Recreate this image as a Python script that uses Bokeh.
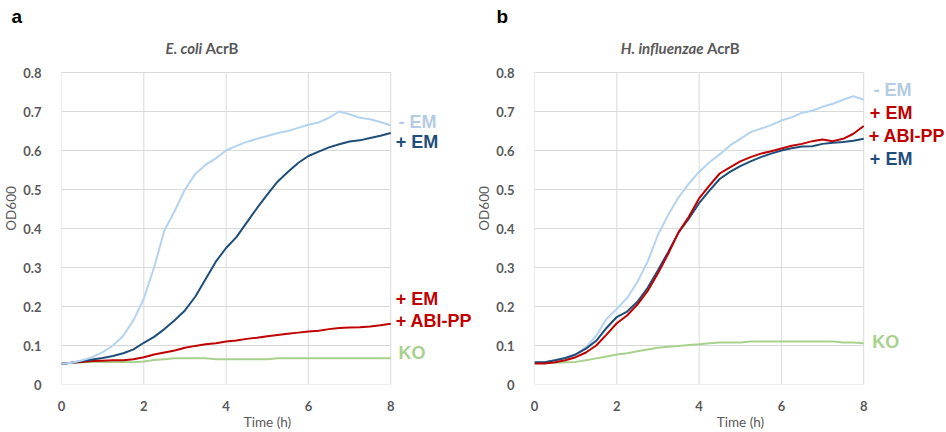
from bokeh.plotting import figure
from bokeh.layouts import row
from bokeh.models import Range1d, FixedTicker, Label, Title
from bokeh.embed import file_html
from bokeh.resources import INLINE

time_h = [i * 0.25 for i in range(33)]

ecoli_minus_em = [0.053, 0.056, 0.062, 0.070, 0.083, 0.100, 0.125, 0.165, 0.220, 0.300, 0.395,
                  0.445, 0.500, 0.540, 0.563, 0.580, 0.600, 0.612, 0.622, 0.630, 0.637, 0.645,
                  0.650, 0.658, 0.666, 0.672, 0.684, 0.700, 0.693, 0.684, 0.680, 0.673, 0.664]
ecoli_plus_em = [0.053, 0.056, 0.060, 0.064, 0.068, 0.073, 0.080, 0.090, 0.107, 0.122, 0.142,
                 0.165, 0.190, 0.225, 0.270, 0.315, 0.350, 0.378, 0.415, 0.452, 0.487, 0.520,
                 0.545, 0.568, 0.586, 0.597, 0.608, 0.616, 0.623, 0.626, 0.632, 0.638, 0.645]
ecoli_em_abipp = [0.053, 0.056, 0.058, 0.060, 0.061, 0.062, 0.062, 0.065, 0.070, 0.077, 0.082,
                  0.087, 0.094, 0.099, 0.103, 0.106, 0.110, 0.113, 0.117, 0.120, 0.124, 0.127,
                  0.130, 0.133, 0.136, 0.138, 0.142, 0.145, 0.146, 0.147, 0.149, 0.152, 0.156]
ecoli_ko = [0.053, 0.056, 0.057, 0.058, 0.058, 0.058, 0.058, 0.057, 0.059, 0.063, 0.065,
            0.067, 0.067, 0.067, 0.067, 0.065, 0.065, 0.065, 0.065, 0.065, 0.065, 0.067,
            0.067, 0.067, 0.067, 0.067, 0.067, 0.067, 0.067, 0.067, 0.067, 0.067, 0.067]

hinf_minus_em = [0.057, 0.057, 0.062, 0.068, 0.077, 0.095, 0.125, 0.168, 0.194, 0.222, 0.263,
                 0.315, 0.384, 0.435, 0.480, 0.515, 0.545, 0.570, 0.590, 0.613, 0.630, 0.647,
                 0.656, 0.665, 0.677, 0.685, 0.697, 0.702, 0.712, 0.720, 0.730, 0.739, 0.730]
hinf_plus_em = [0.057, 0.057, 0.062, 0.068, 0.077, 0.092, 0.112, 0.145, 0.173, 0.187, 0.212,
                0.248, 0.293, 0.340, 0.390, 0.425, 0.465, 0.497, 0.527, 0.545, 0.560, 0.572,
                0.583, 0.592, 0.600, 0.606, 0.610, 0.611, 0.617, 0.620, 0.622, 0.625, 0.630]
hinf_em_abipp = [0.054, 0.054, 0.057, 0.062, 0.070, 0.082, 0.100, 0.128, 0.157, 0.177, 0.205,
                 0.240, 0.285, 0.335, 0.390, 0.430, 0.477, 0.510, 0.541, 0.557, 0.572, 0.583,
                 0.592, 0.598, 0.605, 0.612, 0.617, 0.624, 0.628, 0.624, 0.630, 0.643, 0.663]
hinf_ko = [0.055, 0.055, 0.056, 0.057, 0.058, 0.062, 0.067, 0.072, 0.077, 0.080, 0.085,
           0.090, 0.094, 0.097, 0.099, 0.101, 0.103, 0.106, 0.108, 0.108, 0.108, 0.110,
           0.110, 0.110, 0.110, 0.110, 0.110, 0.110, 0.110, 0.110, 0.108, 0.108, 0.106]

x_ticks = [0, 2, 4, 6, 8]
y_ticks = [0, 0.1, 0.2, 0.3, 0.4, 0.5, 0.6, 0.7, 0.8]

LIGHT = "#b4d3ee"
LIGHT_TXT = "#b3cbe3"
DARK = "#1f4e79"
RED = "#c00000"
GREEN = "#a9d18e"
GREY = "#595959"
GRID = "#d9d9d9"
FONT = "Lato"
LFONT = "Liberation Sans"

PX_PER_H = 41.25
PX_PER_OD = 390.0
TOP = 32
BOTTOM = 48
LEFT = 60
FIG_W = 473
FIG_H = 432


def make_panel(letter, letter_offset):
    frame_w = FIG_W - LEFT
    frame_h = FIG_H - TOP - BOTTOM
    p = figure(width=FIG_W, height=FIG_H, output_backend="svg", toolbar_location=None,
               x_range=Range1d(0, frame_w / PX_PER_H), y_range=Range1d(0, frame_h / PX_PER_OD),
               min_border_left=LEFT, min_border_right=0,
               min_border_top=TOP, min_border_bottom=BOTTOM)
    p.outline_line_color = None
    p.xgrid.visible = False
    p.ygrid.visible = False
    # grid lines limited to the data area
    p.segment(x0=0, x1=x_ticks[-1], y0=y_ticks, y1=y_ticks, line_color=GRID, line_width=1)
    p.segment(x0=x_ticks, x1=x_ticks, y0=0, y1=y_ticks[-1], line_color=GRID, line_width=1)
    for ax in (p.xaxis, p.yaxis):
        ax.axis_line_color = None
        ax.major_tick_line_color = None
        ax.minor_tick_line_color = None
        ax.major_label_text_font = FONT
        ax.major_label_text_font_style = "bold"
        ax.major_label_text_font_size = "13px"
        ax.major_label_text_color = GREY
        ax.axis_label_text_font = FONT
        ax.axis_label_text_font_style = "normal"
        ax.axis_label_text_font_size = "13.5px"
        ax.axis_label_text_color = GREY
    p.xaxis.ticker = FixedTicker(ticks=x_ticks)
    p.yaxis.ticker = FixedTicker(ticks=y_ticks)
    p.xaxis.bounds = (x_ticks[0], x_ticks[-1])
    p.yaxis.bounds = (y_ticks[0], y_ticks[-1])
    p.yaxis.major_label_overrides = {0: "0"}
    p.xaxis.major_label_standoff = 10
    p.yaxis.major_label_standoff = 14
    p.xaxis.axis_label = "Time (h)"
    p.yaxis.axis_label = "OD600"
    p.xaxis.axis_label_standoff = 0
    p.yaxis.axis_label_standoff = 1
    t = Title(text=letter, align="left", offset=letter_offset, text_font=LFONT,
              text_font_size="19px", text_font_style="bold", text_color="#000000",
              standoff=8, vertical_align="top")
    p.add_layout(t, "above")
    return p


def lab(p, x, y, text, color, size="18px", font=LFONT, style="bold", align="left"):
    p.add_layout(Label(x=x, y=y, text=text, text_color=color, text_font=font,
                       text_font_size=size, text_font_style=style,
                       text_align=align, text_baseline="middle"))


# Panel a
pa = make_panel("a", -50)
pa.line(time_h, ecoli_ko, line_color=GREEN, line_width=2)
pa.line(time_h, ecoli_em_abipp, line_color=RED, line_width=2)
pa.line(time_h, ecoli_plus_em, line_color=DARK, line_width=2)
pa.line(time_h, ecoli_minus_em, line_color=LIGHT, line_width=2)
lab(pa, 3.42, 0.862, "E. coli", GREY, size="15px", font=FONT, style="bold italic", align="right")
lab(pa, 3.50, 0.862, "AcrB", GREY, size="15px", font=FONT, style="bold")
lab(pa, 8.19, 0.674, "- EM", LIGHT_TXT)
lab(pa, 8.12, 0.623, "+ EM", DARK)
lab(pa, 8.12, 0.218, "+ EM", RED)
lab(pa, 8.12, 0.162, "+ ABI-PP", RED)
lab(pa, 8.19, 0.082, "KO", GREEN)

# Panel b
pb = make_panel("b", -38)
pb.line(time_h, hinf_ko, line_color=GREEN, line_width=2)
pb.line(time_h, hinf_minus_em, line_color=LIGHT, line_width=2)
pb.line(time_h, hinf_plus_em, line_color=DARK, line_width=2)
pb.line(time_h, hinf_em_abipp, line_color=RED, line_width=2)
lab(pb, 4.11, 0.862, "H. influenzae", GREY, size="15px", font=FONT, style="bold italic", align="right")
lab(pb, 4.19, 0.862, "AcrB", GREY, size="15px", font=FONT, style="bold")
lab(pb, 8.24, 0.754, "- EM", LIGHT_TXT)
lab(pb, 8.15, 0.695, "+ EM", RED)
lab(pb, 8.12, 0.638, "+ ABI-PP", RED)
lab(pb, 8.15, 0.577, "+ EM", DARK)
lab(pb, 8.21, 0.108, "KO", GREEN)

layout = row(pa, pb)
open("out.html", "w").write(file_html(layout, INLINE))
